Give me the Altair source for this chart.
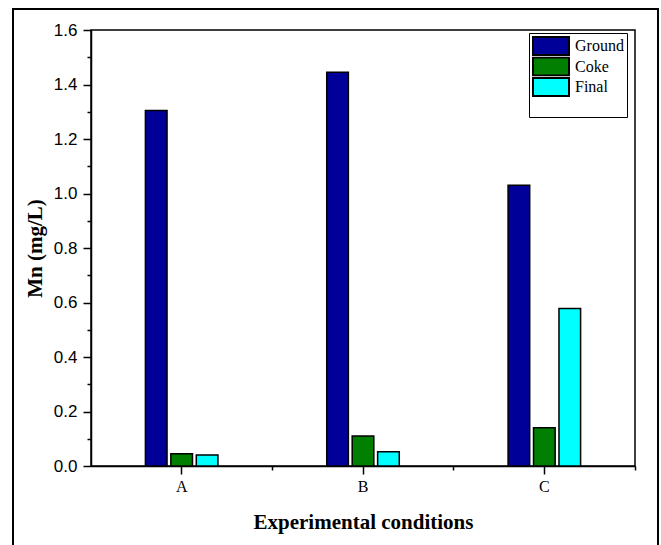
import altair as alt
import pandas as pd

conditions = ["A", "B", "C"]
series = ["Ground", "Coke", "Final"]
ground = [1.305, 1.445, 1.030]
coke = [0.045, 0.110, 0.140]
final = [0.040, 0.052, 0.578]
colors = ["#000099", "#007F00", "#00FFFF"]
y_ticks = [0.0, 0.2, 0.4, 0.6, 0.8, 1.0, 1.2, 1.4, 1.6]
y_minor = [0.1, 0.3, 0.5, 0.7, 0.9, 1.1, 1.3, 1.5]

rows = []
for i, c in enumerate(conditions):
    for s, vals in zip(series, [ground, coke, final]):
        rows.append({"condition": c, "series": s, "value": vals[i]})
df = pd.DataFrame(rows)

x_scale = alt.Scale(paddingInner=0.6, paddingOuter=0.3)
y_scale = alt.Scale(domain=[0, 1.6], nice=False, zero=True)

frame = alt.Chart(pd.DataFrame({"k": [0]})).mark_rect(
    fillOpacity=0, stroke="black", strokeWidth=2
).encode(
    x=alt.value(-78), x2=alt.value(567), y=alt.value(-21), y2=alt.value(530)
)

bars = alt.Chart(df).mark_bar(stroke="black", strokeWidth=1.5).encode(
    x=alt.X(
        "condition:N", sort=conditions, scale=x_scale,
        axis=alt.Axis(
            title="Experimental conditions", orient="bottom", labelAngle=0,
            labelFont="Liberation Serif", labelFontSize=16, labelColor="black",
            labelPadding=4, tickSize=8,
            titleFont="Liberation Serif", titleFontSize=21, titleFontWeight="bold",
            titleColor="black", titlePadding=17,
        ),
    ),
    xOffset=alt.XOffset("series:N", sort=series,
                        scale=alt.Scale(paddingInner=0.15, paddingOuter=0)),
    y=alt.Y(
        "value:Q", scale=y_scale,
        axis=alt.Axis(
            title="Mn (mg/L)", orient="left", values=y_ticks, format=".1f",
            labelFont="Liberation Sans", labelFontSize=17, labelColor="black",
            labelPadding=6, tickSize=8,
            titleFont="Liberation Serif", titleFontSize=21, titleFontWeight="bold",
            titleColor="black", titlePadding=8,
        ),
    ),
    color=alt.Color(
        "series:N", sort=series,
        scale=alt.Scale(domain=series, range=colors),
        legend=alt.Legend(
            title=" ", titleOrient="bottom", titleFontSize=14, titlePadding=3,
            orient="none", legendX=438, legendY=3, direction="vertical",
            symbolType="M-1,-1L3,-1L3,1L-1,1Z", symbolSize=324,
            symbolStrokeColor="black", symbolStrokeWidth=2, symbolOpacity=1,
            labelFont="Liberation Serif", labelFontSize=16, labelColor="black",
            labelOffset=23, rowPadding=0.5, padding=3, clipHeight=20,
            strokeColor="black", fillColor="white",
        ),
    ),
)

minor = alt.Chart(df).mark_bar(opacity=0).encode(
    x=alt.X(
        "condition:N", sort=conditions, scale=x_scale,
        axis=alt.Axis(title="", orient="bottom", labels=False, domain=False,
                      tickSize=4, bandPosition=1.75),
    ),
    y=alt.Y(
        "value:Q", scale=y_scale,
        axis=alt.Axis(title="", orient="left", labels=False, domain=False,
                      values=y_minor, tickSize=4),
    ),
)

chart = alt.layer(frame, bars, minor).resolve_axis(
    x="independent", y="independent"
).properties(
    width=544, height=436,
    autosize=alt.AutoSizeParams(type="none"),
    padding={"left": 91, "top": 30, "right": 26, "bottom": 79},
    background="white",
).configure_view(
    stroke="black", strokeWidth=1.5
).configure_axis(
    grid=False, domainColor="black", domainWidth=1.5,
    tickColor="black", tickWidth=1.5,
)

chart.save("out.html", embed_options={"renderer": "svg", "actions": False})
